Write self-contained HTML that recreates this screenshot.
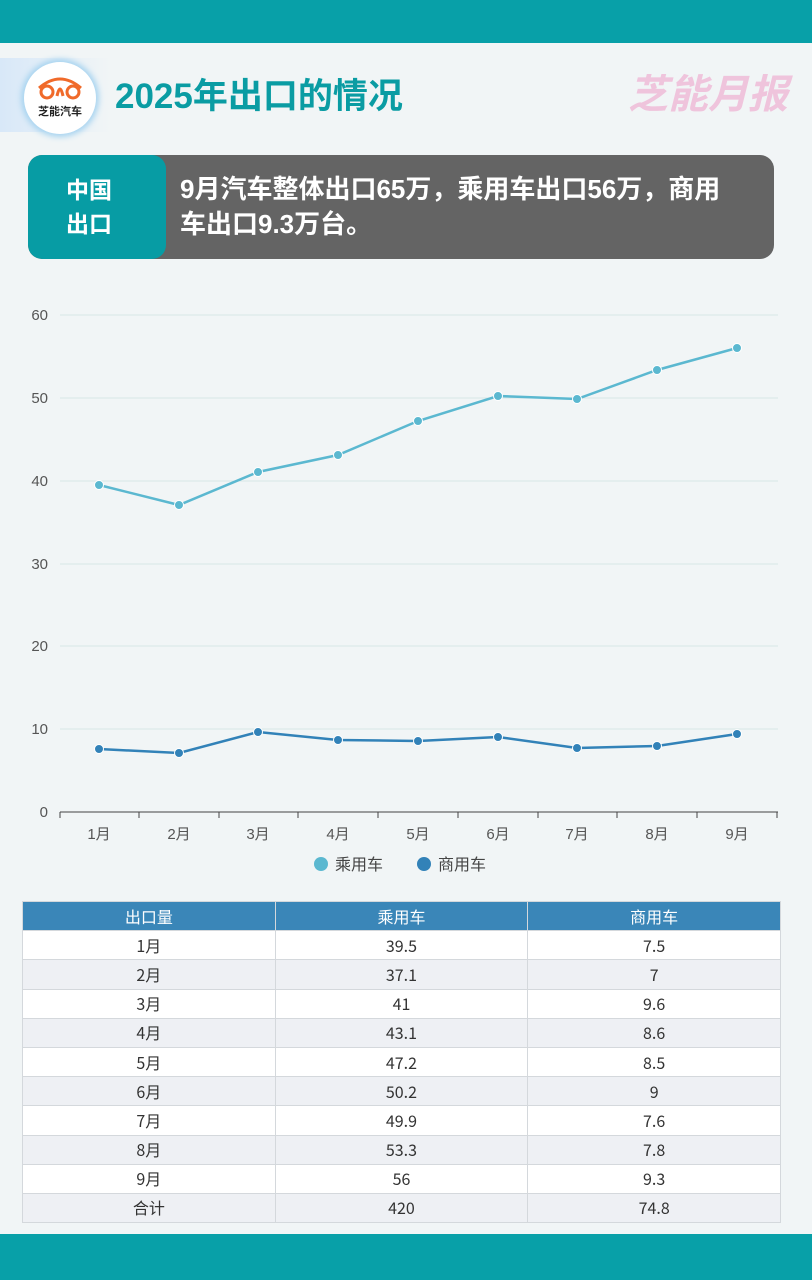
<!DOCTYPE html>
<html><head><meta charset="utf-8"><style>
*{margin:0;padding:0;box-sizing:border-box}
body{width:812px;height:1280px;background:#f1f5f6;font-family:"Liberation Sans","Noto Sans CJK SC",sans-serif;position:relative;overflow:hidden}
.bar{position:absolute;left:0;width:812px;background:#08a0a8}
.logo{position:absolute;left:24px;top:62px;width:72px;height:72px;border-radius:50%;background:#fff;box-shadow:0 0 6px 3px #a8d4f0;text-align:center}
.title{position:absolute;left:115px;top:68px;font-size:35px;font-weight:bold;color:#0a9ca3}
.brand{position:absolute;right:24px;top:62px;font-size:40px;font-weight:bold;font-style:italic;color:#efc4dc}
.box{position:absolute;left:28px;top:155px;width:746px;height:104px;border-radius:14px;background:#646464;overflow:hidden}
.box .l{position:absolute;left:0;top:0;width:138px;height:104px;background:#079ca4;border-radius:14px;color:#fff;font-weight:bold;font-size:23px;line-height:34px;padding:18px 0 0 38px}
.box .r{position:absolute;left:152px;top:17px;color:#fff;font-weight:bold;font-size:26px;line-height:35px;white-space:nowrap}
table{position:absolute;left:22px;top:901px;width:759px;border-collapse:collapse;font-size:16px;color:#333;font-family:"Noto Sans CJK SC",sans-serif}
td{height:29.2px;padding:0;line-height:27px;text-align:center;vertical-align:middle;border:1px solid #d4d8dc;width:253px}
tr:nth-child(even) td{background:#fff}
tr:nth-child(odd) td{background:#eef0f4}
tr.h td{background:#3a86b8;color:#fff}
</style></head><body>
<div class="bar" style="top:0;height:43px"></div>
<div class="bar" style="top:1234px;height:46px"></div>
<div style="position:absolute;left:0;top:58px;width:110px;height:74px;background:linear-gradient(90deg,#d8e8f8,#f1f5f6)"></div>
<div class="logo"><svg width="50" height="26" viewBox="0 0 50 26" style="margin-top:12px"><g fill="none" stroke="#f06a2a" stroke-width="3"><circle cx="12" cy="18" r="6"/><circle cx="38" cy="18" r="6"/><path d="M4 14 Q25 -4 46 14"/><path d="M22 22 Q25 8 28 22"/></g></svg><div style="font-size:11px;font-weight:bold;color:#222;margin-top:-2px">芝能汽车</div></div>
<div class="title">2025年出口的情况</div>
<div class="brand">芝能月报</div>
<div class="box"><div class="l">中国<br>出口</div><div class="r">9月汽车整体出口65万，乘用车出口56万，商用<br>车出口9.3万台。</div></div>
<svg style="position:absolute;left:0;top:0" width="812" height="890">
<g stroke="#d6e6e6" stroke-width="1">
<line x1="60" x2="778" y1="315" y2="315"/><line x1="60" x2="778" y1="398" y2="398"/><line x1="60" x2="778" y1="481" y2="481"/><line x1="60" x2="778" y1="564" y2="564"/><line x1="60" x2="778" y1="646" y2="646"/><line x1="60" x2="778" y1="729" y2="729"/></g>
<line x1="60" x2="778" y1="812" y2="812" stroke="#444"/>
<g stroke="#444">
<line x1="60" x2="60" y1="812" y2="818"/><line x1="139" x2="139" y1="812" y2="818"/><line x1="219" x2="219" y1="812" y2="818"/><line x1="298" x2="298" y1="812" y2="818"/><line x1="378" x2="378" y1="812" y2="818"/><line x1="458" x2="458" y1="812" y2="818"/><line x1="538" x2="538" y1="812" y2="818"/><line x1="617" x2="617" y1="812" y2="818"/><line x1="697" x2="697" y1="812" y2="818"/><line x1="777" x2="777" y1="812" y2="818"/></g>
<g font-size="15" fill="#555" text-anchor="end" font-family="Liberation Sans, sans-serif">
<text x="48" y="320">60</text><text x="48" y="403">50</text><text x="48" y="486">40</text><text x="48" y="569">30</text><text x="48" y="651">20</text><text x="48" y="734">10</text><text x="48" y="817">0</text></g>
<g font-size="15" fill="#555" text-anchor="middle" font-family="Liberation Sans, Noto Sans CJK SC, sans-serif">
<text x="99" y="839">1月</text><text x="179" y="839">2月</text><text x="258" y="839">3月</text><text x="338" y="839">4月</text><text x="418" y="839">5月</text><text x="498" y="839">6月</text><text x="577" y="839">7月</text><text x="657" y="839">8月</text><text x="737" y="839">9月</text></g>
<polyline fill="none" stroke="#5bb8d0" stroke-width="2.5" points="99,485 179,505 258,472 338,455 418,421 498,396 577,399 657,370 737,348"/>
<g fill="#5bb8d0" stroke="#fff" stroke-width="1"><circle cx="99" cy="485" r="4.5"/><circle cx="179" cy="505" r="4.5"/><circle cx="258" cy="472" r="4.5"/><circle cx="338" cy="455" r="4.5"/><circle cx="418" cy="421" r="4.5"/><circle cx="498" cy="396" r="4.5"/><circle cx="577" cy="399" r="4.5"/><circle cx="657" cy="370" r="4.5"/><circle cx="737" cy="348" r="4.5"/></g>
<polyline fill="none" stroke="#3282b8" stroke-width="2.5" points="99,749 179,753 258,732 338,740 418,741 498,737 577,748 657,746 737,734"/>
<g fill="#3282b8" stroke="#fff" stroke-width="1"><circle cx="99" cy="749" r="4.5"/><circle cx="179" cy="753" r="4.5"/><circle cx="258" cy="732" r="4.5"/><circle cx="338" cy="740" r="4.5"/><circle cx="418" cy="741" r="4.5"/><circle cx="498" cy="737" r="4.5"/><circle cx="577" cy="748" r="4.5"/><circle cx="657" cy="746" r="4.5"/><circle cx="737" cy="734" r="4.5"/></g>
<circle cx="321" cy="864" r="7" fill="#5bb8d0"/><text x="335" y="870" font-size="16" fill="#444" font-family="Liberation Sans, Noto Sans CJK SC, sans-serif">乘用车</text>
<circle cx="424" cy="864" r="7" fill="#3282b8"/><text x="438" y="870" font-size="16" fill="#444" font-family="Liberation Sans, Noto Sans CJK SC, sans-serif">商用车</text>
</svg>
<table>
<tr class="h"><td>出口量</td><td>乘用车</td><td>商用车</td></tr>
<tr><td>1月</td><td>39.5</td><td>7.5</td></tr>
<tr><td>2月</td><td>37.1</td><td>7</td></tr>
<tr><td>3月</td><td>41</td><td>9.6</td></tr>
<tr><td>4月</td><td>43.1</td><td>8.6</td></tr>
<tr><td>5月</td><td>47.2</td><td>8.5</td></tr>
<tr><td>6月</td><td>50.2</td><td>9</td></tr>
<tr><td>7月</td><td>49.9</td><td>7.6</td></tr>
<tr><td>8月</td><td>53.3</td><td>7.8</td></tr>
<tr><td>9月</td><td>56</td><td>9.3</td></tr>
<tr><td>合计</td><td>420</td><td>74.8</td></tr>
</table>
</body></html>
